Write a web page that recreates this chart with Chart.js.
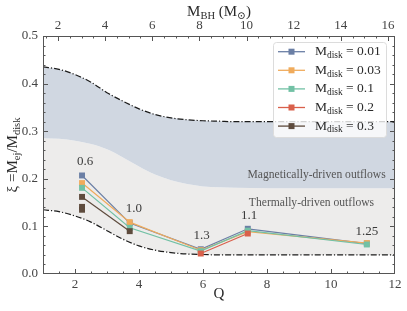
<!DOCTYPE html>
<html><head><meta charset="utf-8">
<script src="https://cdn.jsdelivr.net/npm/chart.js@4"></script>
<style>html,body{margin:0;padding:0;background:#fff}#wrap{width:407px;height:311px}</style>
</head><body><div id="wrap"><canvas id="c" width="407" height="311"></canvas></div>
<script>
// ---- data ----
const Q = [2.22, 3.71, 5.93, 7.40, 11.12];
const diskLabels = ['0.01', '0.03', '0.1', '0.2', '0.3'];
const xi001 = [0.207, 0.107, 0.052, 0.095, 0.064];
const xi003 = [0.191, 0.109, 0.050, 0.089, 0.065];
const xi01  = [0.181, 0.097, 0.048, 0.091, 0.062];
const xi02  = [null, null, 0.043, 0.085, null];
const xi03  = [0.162, 0.090, null, null, null];
const extraQ = [2.22, 2.22];
const extraXi = [0.141, 0.135];
const bandQ = [1, 1.5, 2, 2.5, 3, 3.5, 4, 4.5, 5, 5.5, 6, 6.5, 7, 8, 9, 10, 11, 12];
const upperBound = [0.435, 0.430, 0.419, 0.403, 0.381, 0.363, 0.347, 0.335, 0.328, 0.324, 0.322, 0.321, 0.320, 0.320, 0.320, 0.320, 0.320, 0.320];
const midBound   = [0.285, 0.284, 0.280, 0.273, 0.262, 0.245, 0.226, 0.209, 0.197, 0.189, 0.184, 0.182, 0.181, 0.180, 0.180, 0.180, 0.180, 0.180];
const lowerBound = [0.135, 0.131, 0.122, 0.109, 0.091, 0.073, 0.059, 0.050, 0.045, 0.042, 0.041, 0.040, 0.040, 0.040, 0.040, 0.040, 0.040, 0.040];
const qTicks = [2, 4, 6, 8, 10, 12];
const mbhTicks = [2, 4, 6, 8, 10, 12, 14, 16];
const xiTicks = [0.0, 0.1, 0.2, 0.3, 0.4, 0.5];
const ratioLabels = ['0.6', '1.0', '1.3', '1.1', '1.25'];

// ---- styles / positions ----
const colors = ['#6b7fa5', '#f0ab5c', '#72c1a5', '#d9604b', '#5e4b3d'];
const ratioPos = [[2.32, 0.236], [3.84, 0.138], [5.96, 0.080], [7.44, 0.122], [11.12, 0.089]];
const regionText = [['Magnetically-driven outflows', 9.55, 0.208], ['Thermally-driven outflows', 9.39, 0.149]];
const SERIF = '"Liberation Serif", "DejaVu Serif", serif';

const pts = arr => Q.map((q, i) => ({x: q, y: arr[i]}));
const band = arr => bandQ.map((q, i) => ({x: q, y: arr[i]}));
const seriesVals = [xi001, xi003, xi01, xi02, xi03];

const datasets = [
  {label: 'upper', data: band(upperBound), borderColor: '#1c1c1c', borderWidth: 1.2, borderDash: [6, 2, 1.2, 2],
   pointRadius: 0, fill: false, cubicInterpolationMode: 'monotone', order: 18},
  {label: 'mid', data: band(midBound), borderColor: 'rgba(0,0,0,0)', borderWidth: 0, pointRadius: 0,
   fill: 0, backgroundColor: '#d0d7e1', cubicInterpolationMode: 'monotone', order: 19},
  {label: 'lower', data: band(lowerBound), borderColor: '#1c1c1c', borderWidth: 1.2, borderDash: [6, 2, 1.2, 2],
   pointRadius: 0, fill: 1, backgroundColor: '#edeceb', cubicInterpolationMode: 'monotone', order: 20},
];
seriesVals.forEach((v, i) => {
  datasets.push({label: 'M_disk = ' + diskLabels[i], data: pts(v), borderColor: colors[i], backgroundColor: colors[i],
    borderWidth: 1.2, pointStyle: 'rect', pointRadius: 4.2, pointBorderWidth: 0, spanGaps: false, fill: false, order: 10 - i});
});
datasets.push({label: 'extra', data: extraQ.map((q, i) => ({x: q, y: extraXi[i]})), showLine: false,
  borderColor: colors[4], backgroundColor: colors[4], pointStyle: 'rect', pointRadius: 4.2, pointBorderWidth: 0, order: 1});

function drawRich(ctx, parts, x, y, size, align) {
  const sub = size * 0.7;
  let w = 0;
  parts.forEach(p => { ctx.font = (p.s ? sub : size) + 'px ' + SERIF; w += ctx.measureText(p.t).width; });
  let cx = align === 'center' ? x - w / 2 : x;
  ctx.textAlign = 'left'; ctx.textBaseline = 'middle';
  parts.forEach(p => {
    ctx.font = (p.s ? sub : size) + 'px ' + SERIF;
    ctx.fillText(p.t, cx, p.s ? y + size * 0.28 : y);
    cx += ctx.measureText(p.t).width;
  });
}

const decor = {
  id: 'decor',
  afterDatasetsDraw(chart) {
    const ctx = chart.ctx, a = chart.chartArea;
    const sx = chart.scales.x, sy = chart.scales.y, st = chart.scales.x2;
    ctx.save();
    // frame
    ctx.strokeStyle = '#555'; ctx.lineWidth = 1;
    ctx.strokeRect(a.left + 0.5, a.top + 0.5, a.right - a.left - 1, a.bottom - a.top - 1);
    ctx.beginPath();
    for (let q = 1.5; q < 12; q += 0.5) {
      const px = Math.round(sx.getPixelForValue(q)) + 0.5;
      const len = qTicks.includes(q) ? 5 : 2.5;
      ctx.moveTo(px, a.bottom); ctx.lineTo(px, a.bottom - len);
    }
    for (let m = 1.5; m < 16.3; m += 0.5) {
      const px = Math.round(st.getPixelForValue(m)) + 0.5;
      const len = mbhTicks.includes(m) ? 5 : 2.5;
      ctx.moveTo(px, a.top); ctx.lineTo(px, a.top + len);
    }
    for (let k = 1; k < 25; k++) {
      const v = k * 0.02;
      const py = Math.round(sy.getPixelForValue(v)) + 0.5;
      const len = k % 5 === 0 ? 5 : 2.5;
      ctx.moveTo(a.left, py); ctx.lineTo(a.left + len, py);
      ctx.moveTo(a.right, py); ctx.lineTo(a.right - len, py);
    }
    ctx.stroke();
    // ratio labels
    ctx.fillStyle = '#3a3a3a';
    ctx.font = '13px ' + SERIF; ctx.textAlign = 'center'; ctx.textBaseline = 'middle';
    ratioLabels.forEach((t, i) => ctx.fillText(t, sx.getPixelForValue(ratioPos[i][0]), sy.getPixelForValue(ratioPos[i][1])));
    ctx.fillStyle = '#555';
    ctx.font = '11.6px ' + SERIF;
    regionText.forEach(r => ctx.fillText(r[0], sx.getPixelForValue(r[1]), sy.getPixelForValue(r[2])));
    // legend
    const lx = 273.5, ly = 42.5, lw = 113, lh = 95;
    ctx.beginPath();
    ctx.roundRect(lx, ly, lw, lh, 3);
    ctx.fillStyle = 'rgba(255,255,255,0.8)'; ctx.fill();
    ctx.strokeStyle = '#dcdcdc'; ctx.lineWidth = 1; ctx.stroke();
    diskLabels.forEach((d, i) => {
      const y = 51.7 + i * 18.6;
      ctx.strokeStyle = colors[i]; ctx.lineWidth = 1.3;
      ctx.beginPath(); ctx.moveTo(278, y); ctx.lineTo(305, y); ctx.stroke();
      ctx.fillStyle = colors[i]; ctx.fillRect(288.5, y - 3, 6, 6);
      ctx.fillStyle = '#2a2a2a';
      drawRich(ctx, [{t: 'M'}, {t: 'disk', s: 1}, {t: ' = ' + d}], 315, y, 13.5, 'left');
    });
    ctx.restore();
  },
  afterDraw(chart) {
    const ctx = chart.ctx, a = chart.chartArea;
    const cx = (a.left + a.right) / 2;
    ctx.save();
    ctx.fillStyle = '#2a2a2a';
    drawRich(ctx, [{t: 'M'}, {t: 'BH', s: 1}, {t: ' (M'}, {t: '\u2299', s: 1}, {t: ')'}], cx, 12.5, 15, 'center');
    drawRich(ctx, [{t: 'Q'}], cx, 294, 15, 'center');
    ctx.translate(13, (a.top + a.bottom) / 2);
    ctx.rotate(-Math.PI / 2);
    drawRich(ctx, [{t: '\u03BE =M'}, {t: 'ej', s: 1}, {t: '/M'}, {t: 'disk', s: 1}], 0, 0, 15, 'center');
    ctx.restore();
  }
};

const tickFont = {family: SERIF, size: 13};
new Chart(document.getElementById('c'), {
  type: 'line',
  data: {datasets},
  plugins: [decor],
  options: {
    responsive: false, animation: false, devicePixelRatio: 1,
    layout: {padding: 0},
    plugins: {legend: {display: false}, tooltip: {enabled: false}},
    scales: {
      x: {type: 'linear', position: 'bottom', min: 1, max: 12,
        afterBuildTicks: s => { s.ticks = qTicks.map(v => ({value: v})); },
        afterFit: s => { s.height = 37; },
        ticks: {font: tickFont, color: '#444', padding: 3, maxRotation: 0, callback: v => String(v)},
        grid: {display: false, drawTicks: false}, border: {display: false}},
      x2: {type: 'linear', position: 'top', min: 1.364, max: 16.3,
        afterBuildTicks: s => { s.ticks = mbhTicks.map(v => ({value: v})); },
        afterFit: s => { s.height = 36; },
        ticks: {font: tickFont, color: '#444', padding: 3, maxRotation: 0, callback: v => String(v)},
        grid: {display: false, drawTicks: false}, border: {display: false}},
      y: {type: 'linear', position: 'left', min: 0, max: 0.5,
        afterBuildTicks: s => { s.ticks = xiTicks.map(v => ({value: v})); },
        afterFit: s => { s.width = 43; },
        ticks: {font: tickFont, color: '#444', padding: 5, callback: v => v.toFixed(1)},
        grid: {display: false, drawTicks: false}, border: {display: false}},
      y2: {type: 'linear', position: 'right', min: 0, max: 0.5, display: true,
        afterFit: s => { s.width = 12; },
        ticks: {display: false}, grid: {display: false, drawTicks: false}, border: {display: false}}
    }
  }
});
</script></body></html>
